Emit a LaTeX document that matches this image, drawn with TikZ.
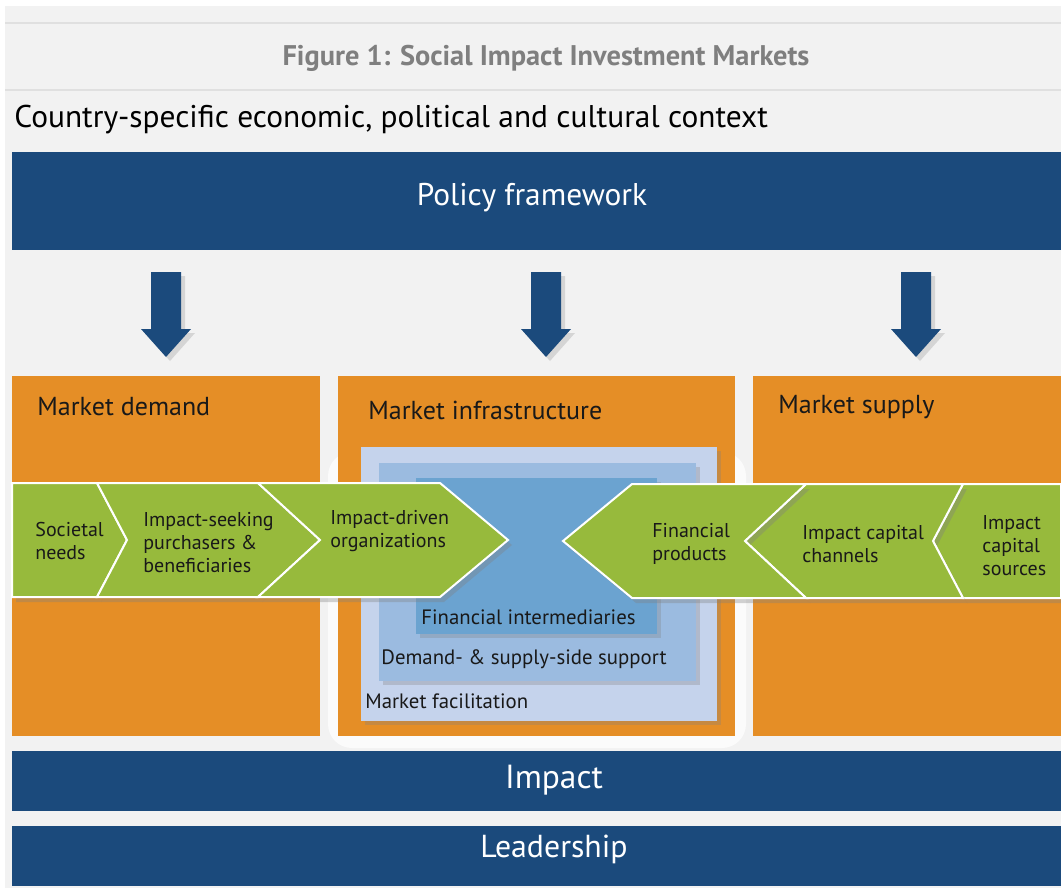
\documentclass[tikz,border=0pt]{standalone}
\usepackage{fontspec}
\setmainfont{PT Sans}
\usetikzlibrary{shadows}
\definecolor{barblue}{HTML}{1B4A7C}
\definecolor{mktorange}{HTML}{E58E26}
\definecolor{chevgreen}{HTML}{97BA3C}
\definecolor{facilblue}{HTML}{C5D3EC}
\definecolor{suppblue}{HTML}{9BBBE0}
\definecolor{intermblue}{HTML}{6BA3D0}
\definecolor{bggray}{HTML}{F2F2F2}
\definecolor{titlegray}{HTML}{7F7F7F}
\newcommand\chevfont{\fontsize{10}{11.5}\selectfont}
\newcommand\boxfont{\fontsize{10.4}{12}\selectfont}
\newcommand\mktfont{\fontsize{13}{15}\selectfont}

\tikzset{
  chev/.style={fill=chevgreen, draw=white, line width=1pt,
    drop shadow={shadow xshift=2pt, shadow yshift=-2.5pt, opacity=0.35}},
  inbox/.style={drop shadow={shadow xshift=2pt, shadow yshift=-2pt, opacity=0.3}},
  chevlabel/.style={anchor=west, align=left, inner sep=0pt, font=\chevfont, text=black!90},
  boxlabel/.style={chevlabel, font=\boxfont},
  mktlabel/.style={anchor=west, inner sep=0pt, font=\mktfont, text=black!90},
  barlabel/.style={text=white},
  downarrow/.style={fill=barblue,
    drop shadow={shadow xshift=2pt, shadow yshift=-2pt, opacity=0.25}}
}

\begin{document}
\begin{tikzpicture}[x=0.5pt,y=-0.5pt]
\useasboundingbox (0,0) rectangle (1061,888);
\fill[white] (0,0) rectangle (1061,888);
\fill[bggray] (5,6) rectangle (1061,888);
\draw[black!12, line width=1pt] (5,23) -- (1061,23);
\draw[black!12, line width=1pt] (5,90) -- (1061,90);

% heading
\node[font=\bfseries\fontsize{14.2}{16}\selectfont, text=titlegray] (title) at (546,58) {Figure 1: Social Impact Investment Markets};
\node[anchor=west, inner sep=0pt, font=\fontsize{15.7}{18}\selectfont] (context) at (14,120) {Country-specific economic, political and cultural context};

% policy bar and arrows
\fill[barblue] (12,152) rectangle (1061,250);
\node[barlabel, font=\fontsize{15.7}{18}\selectfont] (policy) at (532,198) {Policy framework};
\foreach \c in {166,546,916}
  \path[downarrow] (\c-15,272) -- (\c+15,272) -- (\c+15,329) -- (\c+25,329)
    -- (\c,357) -- (\c-25,329) -- (\c-15,329) -- cycle;

% market boxes
\fill[white, opacity=0.7, rounded corners=12pt] (328,452) rectangle (746,748);
\fill[mktorange] (12,376) rectangle (320,736);
\fill[mktorange] (338,376) rectangle (735,736);
\fill[mktorange] (753,376) rectangle (1061,736);
\node[mktlabel] (demand) at (37,407) {Market demand};
\node[mktlabel] (infra) at (368,410) {Market infrastructure};
\node[mktlabel] (supply) at (778,407) {Market supply};

% nested infrastructure boxes
\path[inbox, fill=facilblue] (361,447) rectangle (717,721);
\path[inbox, fill=suppblue] (379,463) rectangle (696,681);
\path[inbox, fill=intermblue] (416,478) rectangle (657,634);
\node[boxlabel] (interm) at (421,617) {Financial intermediaries};
\node[boxlabel] (support) at (381,659) {Demand- \& supply-side support};
\node[boxlabel] (facil) at (365,701) {Market facilitation};

% demand-side chevrons
\path[chev] (12,483) -- (97,483) -- (127,540) -- (97,597) -- (12,597) -- cycle;
\path[chev] (97,483) -- (258,483) -- (320,540) -- (258,597) -- (97,597) -- (127,540) -- cycle;
\path[chev] (258,483) -- (440,483) -- (508,540) -- (440,597) -- (258,597) -- (320,540) -- cycle;
% supply-side chevrons
\path[chev] (933,541) -- (963,484) -- (1061,484) -- (1061,598) -- (963,598) -- cycle;
\path[chev] (745,541) -- (806,484) -- (963,484) -- (933,541) -- (963,598) -- (806,598) -- cycle;
\path[chev] (563,541) -- (632,484) -- (806,484) -- (745,541) -- (806,598) -- (632,598) -- cycle;

\node[chevlabel] (needs) at (35,541) {Societal\\needs};
\node[chevlabel] (purch) at (143,543) {Impact-seeking\\purchasers \&\\beneficiaries};
\node[chevlabel] (orgs) at (330,531) {Impact-driven\\organizations};
\node[chevlabel] (prods) at (652,544) {Financial\\products};
\node[chevlabel] (chans) at (802,544) {Impact capital\\channels};
\node[chevlabel] (sources) at (982,546) {Impact\\capital\\sources};

% bottom bars
\fill[barblue] (12,751) rectangle (1061,811);
\node[barlabel, font=\fontsize{16.7}{19}\selectfont] (impact) at (554,780) {Impact};
\fill[barblue] (12,826) rectangle (1061,886);
\node[barlabel, font=\fontsize{15.9}{19}\selectfont] (leader) at (554,849) {Leadership};
\end{tikzpicture}
\end{document}
